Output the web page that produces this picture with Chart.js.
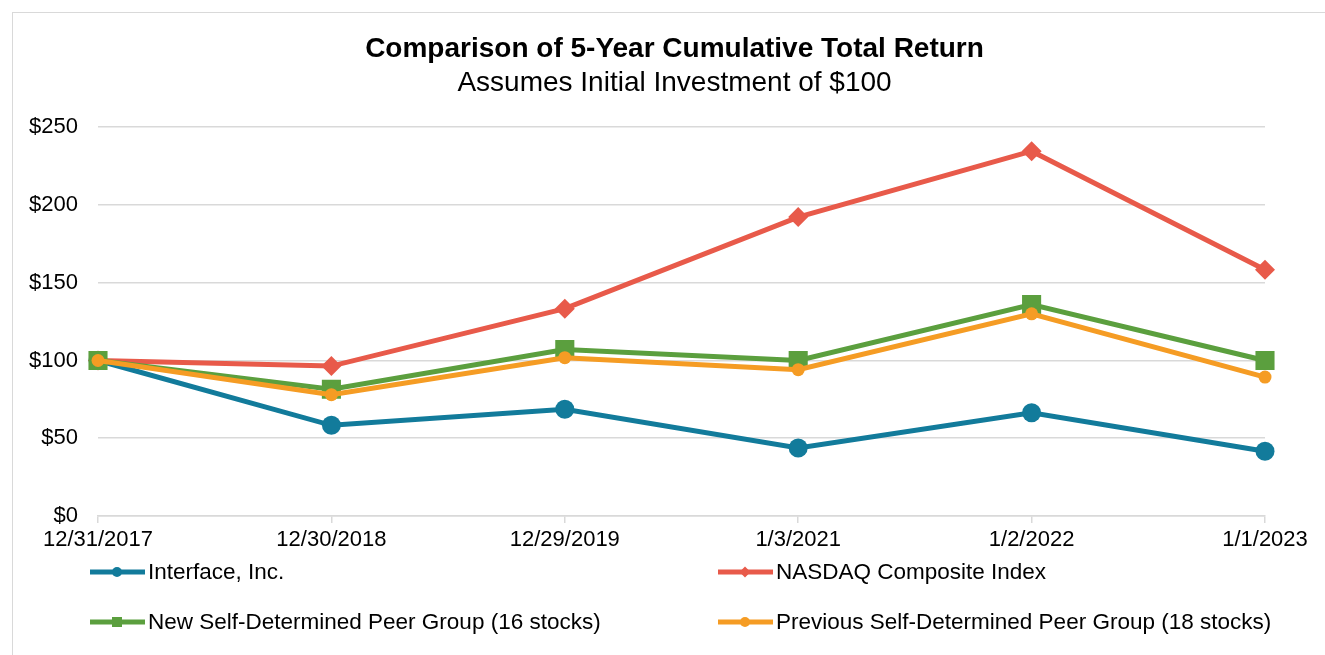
<!DOCTYPE html>
<html>
<head>
<meta charset="utf-8">
<script src="https://cdn.jsdelivr.net/npm/chart.js@4.4.1/dist/chart.umd.min.js"></script>
<style>
  html, body { margin: 0; padding: 0; background: #fff; overflow: hidden; }
  #frame { position: absolute; left: 12px; top: 12px; width: 1340px; height: 670px; border: 1.5px solid #d9d9d9; }
  #wrap { position: absolute; left: 0; top: 0; width: 1349px; height: 655px; }
</style>
</head>
<body>
<div id="frame"></div>
<div id="wrap"><canvas id="chart"></canvas></div>
<script>
// Dates des points (fin d'exercice)
const dates = ['12/31/2017', '12/30/2018', '12/29/2019', '1/3/2021', '1/2/2022', '1/1/2023'];

// Valeurs ($)
const interfaceInc = [100, 58.3, 68.6, 43.7, 66.4, 41.6];
const nasdaqComposite = [100, 96.4, 133.3, 192.2, 234.6, 158.3];
const newPeerGroup = [100, 81.5, 107, 100, 136, 100];
const prevPeerGroup = [100, 78, 101.8, 94.1, 130, 89.3];

// Graduations de l'axe Y
const yTicks = [0, 50, 100, 150, 200, 250];

const labelsLegende = [
    'Interface, Inc.',
    'NASDAQ Composite Index',
    'New Self-Determined Peer Group (16 stocks)',
    'Previous Self-Determined Peer Group (18 stocks)'
];
const couleurs = ['#127b9b', '#e85a4a', '#5b9f3e', '#f59c24'];

const police = '"Liberation Sans", Arial, sans-serif';

// Légende sur deux colonnes, dessinée à la main
const legendeGrille = {
    id: 'legendeGrille',
    afterDraw(chart) {
        const ctx = chart.ctx;
        const area = chart.chartArea;
        const cols = [area.left - 8, area.left + 620];
        const rows = [area.bottom + 56, area.bottom + 106];
        chart.data.datasets.forEach((ds, i) => {
            const x = cols[i % 2];
            const y = rows[Math.floor(i / 2)];
            ctx.save();
            ctx.strokeStyle = ds.borderColor;
            ctx.lineWidth = 5;
            ctx.beginPath();
            ctx.moveTo(x, y);
            ctx.lineTo(x + 55, y);
            ctx.stroke();
            ctx.fillStyle = ds.borderColor;
            const cx = x + 27, r = 5.5;
            ctx.beginPath();
            if (ds.pointStyle === 'rectRot') {
                ctx.moveTo(cx, y - r); ctx.lineTo(cx + r, y); ctx.lineTo(cx, y + r); ctx.lineTo(cx - r, y);
                ctx.closePath();
            } else if (ds.pointStyle === 'rect') {
                ctx.rect(cx - 5, y - 5, 10, 10);
            } else {
                ctx.arc(cx, y, 5, 0, Math.PI * 2);
            }
            ctx.fill();
            ctx.fillStyle = '#000';
            ctx.font = '22.5px ' + police;
            ctx.textBaseline = 'middle';
            ctx.textAlign = 'left';
            ctx.fillText(ds.label, x + 58, y + 1);
            ctx.restore();
        });
    }
};

const ctx = document.getElementById('chart').getContext('2d');

const myChart = new Chart(ctx, {
    type: 'line',
    data: {
        labels: dates,
        datasets: [
            {
                label: labelsLegende[0],
                data: interfaceInc,
                borderColor: couleurs[0],
                backgroundColor: couleurs[0],
                pointStyle: 'circle',
                pointRadius: 9.5,
                order: 3
            },
            {
                label: labelsLegende[1],
                data: nasdaqComposite,
                borderColor: couleurs[1],
                backgroundColor: couleurs[1],
                pointStyle: 'rectRot',
                pointRadius: 10,
                order: 2
            },
            {
                label: labelsLegende[2],
                data: newPeerGroup,
                borderColor: couleurs[2],
                backgroundColor: couleurs[2],
                pointStyle: 'rect',
                pointRadius: 13.5,
                order: 1
            },
            {
                label: labelsLegende[3],
                data: prevPeerGroup,
                borderColor: couleurs[3],
                backgroundColor: couleurs[3],
                pointStyle: 'circle',
                pointRadius: 6.5,
                order: 0
            }
        ]
    },
    options: {
        responsive: true,
        maintainAspectRatio: false,
        animation: false,
        elements: {
            line: { borderWidth: 5, tension: 0 },
            point: { borderWidth: 0, hoverRadius: 10 }
        },
        layout: {
            padding: { top: 0, right: 0, bottom: 0, left: 0 }
        },
        scales: {
            x: {
                offset: false,
                grid: {
                    display: true,
                    drawOnChartArea: false,
                    drawTicks: true,
                    tickLength: 7,
                    color: '#d9d9d9',
                    lineWidth: 1.5
                },
                border: { display: true, color: '#d9d9d9', width: 1.5 },
                ticks: {
                    color: '#000',
                    padding: 4,
                    maxRotation: 0,
                    autoSkip: false,
                    font: { family: police, size: 22 }
                },
                afterFit(scale) { scale.height = 139; }
            },
            y: {
                min: 0,
                max: 250,
                afterBuildTicks(scale) {
                    scale.ticks = yTicks.map(v => ({ value: v }));
                },
                grid: {
                    color: '#d9d9d9',
                    lineWidth: 1.5,
                    drawTicks: false
                },
                border: { display: false },
                ticks: {
                    color: '#000',
                    padding: 20,
                    font: { family: police, size: 22 },
                    callback: (v) => '$' + v
                },
                afterFit(scale) { scale.width = 98; }
            },
            // axe vide à droite : réserve la marge pour que le titre soit centré sur le cadre
            yDroite: {
                position: 'right',
                display: true,
                min: 0,
                max: 250,
                grid: { display: false, drawTicks: false },
                border: { display: false },
                ticks: { display: false },
                afterFit(scale) { scale.width = 84; }
            }
        },
        plugins: {
            legend: { display: false },
            tooltip: { enabled: false },
            title: {
                display: true,
                text: 'Comparison of 5-Year Cumulative Total Return',
                color: '#000',
                font: { family: police, size: 28, weight: 'bold', lineHeight: 1.2 },
                padding: { top: 32, bottom: 0 }
            },
            subtitle: {
                display: true,
                text: 'Assumes Initial Investment of $100',
                color: '#000',
                font: { family: police, size: 28, lineHeight: 1.2 },
                padding: { top: 1, bottom: 27 }
            }
        }
    },
    plugins: [legendeGrille]
});
</script>
</body>
</html>
